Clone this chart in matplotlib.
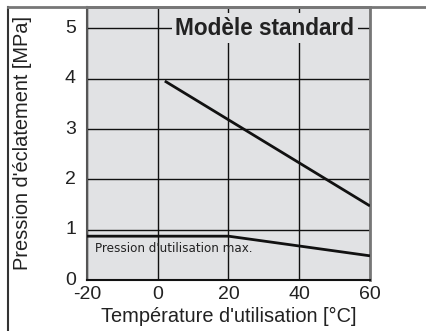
import matplotlib.pyplot as plt
import matplotlib.transforms as mtransforms
from matplotlib.lines import Line2D

plt.rcParams['font.family'] = ['Liberation Sans', 'DejaVu Sans']
plt.rcParams['axes.unicode_minus'] = False

# Pression d'éclatement (modèle standard)
temp_eclat = [2, 60]
press_eclat = [3.95, 1.47]

# Pression d'utilisation max.
temp_util = [-20, 20, 60]
press_util = [0.87, 0.87, 0.48]

xticks = [-20, 0, 20, 40, 60]
yticks = [0, 1, 2, 3, 4, 5]

fig = plt.figure(figsize=(4.27, 3.31), dpi=100)
ax = fig.add_axes([87 / 427, 51 / 331, 283 / 427, 273 / 331])
ax.set_facecolor('#e1e2e4')

ax.plot(temp_eclat, press_eclat, color='#111111', lw=2, solid_capstyle='butt', zorder=3)
ax.plot(temp_util, press_util, color='#111111', lw=2, solid_capstyle='butt', zorder=3)

ax.set_xlim(-20, 60)
ax.set_ylim(0, 5.42)
ax.set_xticks(xticks)
ax.set_yticks(yticks)
ax.tick_params(length=0, labelsize=14, colors='#222222')
ax.tick_params(axis='x', pad=4)
ax.tick_params(axis='y', pad=8)
# remonter légèrement les étiquettes de l'axe y
shift = mtransforms.ScaledTranslation(0, 1.2 / 72, fig.dpi_scale_trans)
for lbl in ax.get_yticklabels():
    lbl.set_transform(lbl.get_transform() + shift)
ax.grid(True, color='#111111', lw=1)
ax.set_axisbelow(True)

for side in ['top', 'right']:
    ax.spines[side].set_color('#777777')
    ax.spines[side].set_linewidth(2)
ax.spines['left'].set_color('#555555')
ax.spines['left'].set_linewidth(1.5)
ax.spines['bottom'].set_color('#111111')
ax.spines['bottom'].set_linewidth(1.5)

ax.set_xlabel("Température d'utilisation [°C]", fontsize=14.4, labelpad=3, color='#222222')
ax.set_ylabel("Pression d'éclatement [MPa]", fontsize=14.4, color='#222222')
ax.yaxis.set_label_coords(-0.195, 0.5)

ax.text(30.3, 5, 'Modèle standard', fontsize=16.3, fontweight='bold', ha='center', va='center',
        color='#222222', zorder=4,
        bbox=dict(boxstyle='square,pad=0.15', facecolor='#e1e2e4', edgecolor='none'))
ax.text(-17.8, 0.62, "Pression d'utilisation max.", fontsize=9.5, ha='left', va='center',
        family='DejaVu Sans', fontstretch='condensed', color='#222222', zorder=4)

# cadre extérieur
fig.add_artist(Line2D([8 / 427, 8 / 427], [0, 324 / 331], color='#333333', lw=1.5))
fig.add_artist(Line2D([8 / 427, 1], [324 / 331, 324 / 331], color='#777777', lw=2))

fig.savefig('out.png', dpi=100)
